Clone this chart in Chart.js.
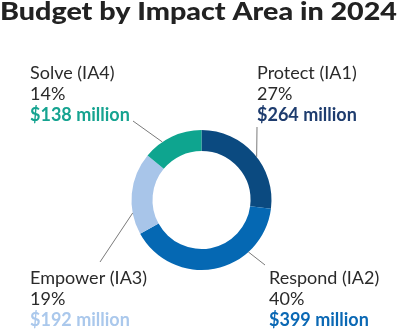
<!DOCTYPE html>
<html>
<head>
<meta charset="utf-8">
<script src="https://cdn.jsdelivr.net/npm/chart.js@4"></script>
<style>
    html, body { margin: 0; padding: 0; background: #fff; }
    #wrap { width: 400px; height: 329px; }
</style>
</head>
<body>
<div id="wrap"><canvas id="budgetChart" width="400" height="329"></canvas></div>
<script>
// --- Data ---
const areas = ['Protect (IA1)', 'Respond (IA2)', 'Empower (IA3)', 'Solve (IA4)'];
const shares = [27, 40, 19, 14];
const amounts = [264, 399, 192, 138];

const sliceColors = ['#0b4a80', '#0568b3', '#a8c5e9', '#0ea58f'];
const amountColors = ['#1e3c6e', '#0a68b4', '#aac8ec', '#15a390'];

// label block positions (left x, first baseline) and leader line ends
const labelLayout = [
    { x: 257, y: 79, at: 0.535, end: [257, 127] },
    { x: 269, y: 284, at: 0.283, end: [265, 265] },
    { x: 30, y: 284, at: 0.265, end: [100, 262] },
    { x: 30, y: 79, at: 0.325, end: [133, 121] }
];

const FONT = 'Lato, "Open Sans", sans-serif';

// --- Title + labels plugin ---
const calloutPlugin = {
    id: 'callouts',
    afterDraw(chart) {
        const ctx = chart.ctx;
        const meta = chart.getDatasetMeta(0);
        ctx.save();

        // title, stretched to the full width like the original
        const title = 'Budget by Impact Area in 2024';
        ctx.fillStyle = '#222';
        ctx.font = `900 24px ${FONT}`;
        ctx.textBaseline = 'alphabetic';
        const w = ctx.measureText(title).width;
        ctx.save();
        ctx.scale(397 / w, 1);
        ctx.fillText(title, 0, 20);
        ctx.restore();

        meta.data.forEach((arc, i) => {
            const spot = labelLayout[i];
            const { x, y, startAngle, endAngle, outerRadius } = arc.getProps(['x', 'y', 'startAngle', 'endAngle', 'outerRadius'], true);
            const a = startAngle + (endAngle - startAngle) * spot.at;

            ctx.strokeStyle = '#7a7a7a';
            ctx.lineWidth = 1;
            ctx.beginPath();
            ctx.moveTo(x + Math.cos(a) * outerRadius, y + Math.sin(a) * outerRadius);
            ctx.lineTo(spot.end[0], spot.end[1]);
            ctx.stroke();

            ctx.fillStyle = '#2a2a2a';
            ctx.font = `18px ${FONT}`;
            ctx.fillText(areas[i], spot.x, spot.y);
            ctx.fillText(shares[i] + '%', spot.x, spot.y + 21);
            ctx.fillStyle = amountColors[i];
            ctx.font = `bold 18px ${FONT}`;
            ctx.fillText('$' + amounts[i] + ' million', spot.x, spot.y + 42);
        });
        ctx.restore();
    }
};

new Chart(document.getElementById('budgetChart'), {
    type: 'doughnut',
    data: {
        labels: areas,
        datasets: [{
            data: shares,
            backgroundColor: sliceColors,
            borderWidth: 0
        }]
    },
    options: {
        responsive: false,
        animation: false,
        cutout: '70%',
        layout: { padding: { top: 130, bottom: 59, left: 131, right: 128 } },
        plugins: {
            legend: { display: false },
            tooltip: { enabled: false }
        }
    },
    plugins: [calloutPlugin]
});
</script>
</body>
</html>
